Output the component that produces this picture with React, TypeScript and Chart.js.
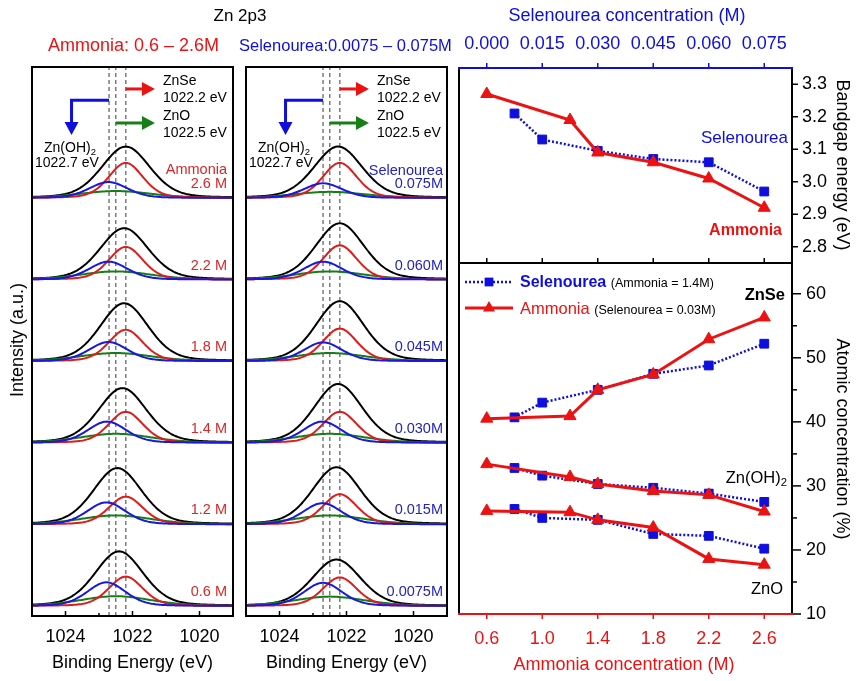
import React, { useEffect, useRef } from 'react';
import { Chart, ChartConfiguration, registerables } from 'chart.js';

Chart.register(...registerables);

const W = 860;
const H = 681;
const FONT = 'Arial, "Liberation Sans", Helvetica, sans-serif';

const SPEC_RED = 'rgb(222,28,28)';
const SPEC_BLUE = 'rgb(24,24,222)';
const SPEC_GREEN = 'rgb(22,126,22)';
const RED = 'rgb(236,18,18)';
const BLUE = 'rgb(14,14,222)';
const LABEL_RED = 'rgb(214,40,40)';
const LABEL_BLUE = 'rgb(36,36,186)';

// ---- Zn 2p3 fits (a.u.; stacked spectra are 100 a.u. apart) ----
const bindingEnergyTicks = [1024, 1022, 1020];
const bindingEnergyMinorTicks = [1023, 1021];
const referenceEnergies = [1022.7, 1022.5, 1022.2]; // Zn(OH)2, ZnO, ZnSe
const znseCenter = 1022.2;
const znoCenter = 1022.5;
const componentFwhm = [1.7, 1.2, 1.35, 2.5]; // envelope, ZnSe, Zn(OH)2, ZnO

const ammoniaSpectra = ['0.6 M', '1.2 M', '1.4 M', '1.8 M', '2.2 M', '2.6 M'];
const ammoniaEnvelopeCenter = [1022.4, 1022.45, 1022.3, 1022.25, 1022.25, 1022.2];
const ammoniaEnvelopeHeight = [67, 69, 67, 71, 63, 63];
const ammoniaZnSeHeight = [36, 34, 38, 38.5, 40, 43];
const ammoniaZnOHCenter = [1022.78, 1022.78, 1022.76, 1022.72, 1022.72, 1022.72];
const ammoniaZnOHHeight = [29, 27, 26, 23.5, 22, 19.5];
const ammoniaZnOHeight = [12, 11, 11, 10, 10, 8.5];

const selenoureaSpectra = ['0.0075M', '0.015M', '0.030M', '0.045M', '0.060M', '0.075M'];
const selenoureaEnvelopeCenter = [1022.3, 1022.3, 1022.25, 1022.2, 1022.2, 1022.25];
const selenoureaEnvelopeHeight = [57, 70, 72, 73.5, 69, 63];
const selenoureaZnSeHeight = [35, 37, 38, 40, 42, 43];
const selenoureaZnOHCenter = [1022.7, 1022.72, 1022.72, 1022.7, 1022.7, 1022.7];
const selenoureaZnOHHeight = [28.5, 26, 26, 23, 22, 18];
const selenoureaZnOHeight = [11.5, 11, 11, 10, 10, 7.5];

// ---- band gap / composition ----
const ammoniaConc = [0.6, 1.2, 1.4, 1.8, 2.2, 2.6];
const selenoureaConc = [0.0075, 0.015, 0.03, 0.045, 0.06, 0.075];
const ammoniaTicks = [0.6, 1.0, 1.4, 1.8, 2.2, 2.6];
const selenoureaTicks = [0, 0.015, 0.03, 0.045, 0.06, 0.075];
const bandgapTicks = [2.8, 2.9, 3.0, 3.1, 3.2, 3.3];
const atomicTicks = [10, 20, 30, 40, 50, 60];
const atomicMinorTicks = [15, 25, 35, 45, 55];

const bandgapAmmonia = [3.27, 3.19, 3.09, 3.06, 3.01, 2.92];
const bandgapSelenourea = [3.21, 3.13, 3.095, 3.07, 3.06, 2.97];

const znseAmmonia = [40.5, 40.9, 45.0, 47.4, 52.9, 56.3];
const znohAmmonia = [33.4, 31.4, 30.3, 29.2, 28.6, 26.0];
const znoAmmonia = [26.1, 25.9, 24.7, 23.5, 18.6, 17.7];
const znseSelenourea = [40.7, 43.0, 45.0, 47.5, 48.8, 52.2];
const znohSelenourea = [32.8, 31.6, 30.3, 29.7, 28.8, 27.5];
const znoSelenourea = [26.4, 25.0, 24.7, 22.5, 22.2, 20.2];

// layout of the stacked panels
const SPACING = 100;
const Y_MIN = -12.25;
const Y_MAX = 660.5;
const SPEC_TOP = 67;
const SPEC_BOTTOM = 616;
const ETA = 0.25;
const AXIS_BAND = 44; // room kept for tick labels outside the plot area

const energyGrid: number[] = [];
for (let i = 0; i <= 150; i++) energyGrid.push(1019 + i * 0.04);

const profile = (c: number, h: number, w: number, offset: number) =>
  energyGrid.map((x) => {
    const t = (x - c) / w;
    return { x, y: offset + h * ((1 - ETA) * Math.exp(-4 * Math.LN2 * t * t) + ETA / (1 + 4 * t * t)) };
  });

const curve = (data: { x: number; y: number }[], color: string, width: number) => ({
  data,
  borderColor: color,
  borderWidth: width,
  pointRadius: 0,
  fill: false,
  tension: 0,
});

type TickSet = { scale: string; side: 'top' | 'bottom' | 'right'; values: number[]; len: number; out: boolean; color: string };
type Arrow = { pts: [number, number][]; color: string };
type LegendSym = { dx: number; dy: number; len: number; color: string; dash: number[]; width: number; marker: 'rect' | 'triangle'; size: number };
type Decor = {
  frame: { top: string; right: string; bottom: string; left: string };
  ticks: TickSet[];
  arrows?: Arrow[];
  legend?: LegendSym[];
};

const drawMarker = (ctx: CanvasRenderingContext2D, kind: string, x: number, y: number, r: number, color: string) => {
  ctx.fillStyle = color;
  ctx.beginPath();
  if (kind === 'rect') {
    const s = r * Math.SQRT1_2;
    ctx.rect(x - s, y - s, 2 * s, 2 * s);
  } else {
    ctx.moveTo(x, y - r);
    ctx.lineTo(x + r * 0.866, y + r / 2);
    ctx.lineTo(x - r * 0.866, y + r / 2);
    ctx.closePath();
  }
  ctx.fill();
};

const decor = (d: Decor) => ({
  id: 'decor',
  afterDraw(chart: Chart) {
    const { ctx, chartArea: a } = chart;
    ctx.save();
    const sx = chart.scales.x;
    const sy = chart.scales.y;
    (d.arrows || []).forEach((arrow) => {
      const pts = arrow.pts.map(([x, y]) => [sx.getPixelForValue(x), sy.getPixelForValue(y)]);
      const [ex, ey] = pts[pts.length - 1];
      const [px, py] = pts[pts.length - 2];
      const ang = Math.atan2(ey - py, ex - px);
      const head = 13;
      const half = 7;
      const bx = ex - Math.cos(ang) * head;
      const by = ey - Math.sin(ang) * head;
      ctx.strokeStyle = arrow.color;
      ctx.fillStyle = arrow.color;
      ctx.lineWidth = 3;
      ctx.lineJoin = 'miter';
      ctx.beginPath();
      ctx.moveTo(pts[0][0], pts[0][1]);
      for (let i = 1; i < pts.length - 1; i++) ctx.lineTo(pts[i][0], pts[i][1]);
      ctx.lineTo(bx, by);
      ctx.stroke();
      ctx.beginPath();
      ctx.moveTo(ex, ey);
      ctx.lineTo(bx + Math.sin(ang) * half, by - Math.cos(ang) * half);
      ctx.lineTo(bx - Math.sin(ang) * half, by + Math.cos(ang) * half);
      ctx.closePath();
      ctx.fill();
    });

    ctx.lineWidth = 1.5;
    d.ticks.forEach((t) => {
      const s = chart.scales[t.scale];
      ctx.strokeStyle = t.color;
      const len = t.out ? t.len : -t.len;
      t.values.forEach((v) => {
        const p = s.getPixelForValue(v);
        ctx.beginPath();
        if (t.side === 'bottom') {
          ctx.moveTo(p, a.bottom);
          ctx.lineTo(p, a.bottom + len);
        } else if (t.side === 'top') {
          ctx.moveTo(p, a.top);
          ctx.lineTo(p, a.top - len);
        } else {
          ctx.moveTo(a.right, p);
          ctx.lineTo(a.right + len, p);
        }
        ctx.stroke();
      });
    });

    const fw = 2;
    const e = fw / 2;
    ctx.lineWidth = fw;
    const side = (color: string, x1: number, y1: number, x2: number, y2: number) => {
      ctx.strokeStyle = color;
      ctx.beginPath();
      ctx.moveTo(x1, y1);
      ctx.lineTo(x2, y2);
      ctx.stroke();
    };
    side(d.frame.left, a.left, a.top - e, a.left, a.bottom + e);
    side(d.frame.right, a.right, a.top - e, a.right, a.bottom + e);
    side(d.frame.top, a.left - e, a.top, a.right + e, a.top);
    side(d.frame.bottom, a.left - e, a.bottom, a.right + e, a.bottom);

    (d.legend || []).forEach((l) => {
      const x1 = a.left + l.dx;
      const y = a.top + l.dy;
      ctx.strokeStyle = l.color;
      ctx.lineWidth = l.width;
      ctx.setLineDash(l.dash);
      ctx.beginPath();
      ctx.moveTo(x1, y);
      ctx.lineTo(x1 + l.len, y);
      ctx.stroke();
      ctx.setLineDash([]);
      drawMarker(ctx, l.marker, x1 + l.len / 2, y, l.size, l.color);
    });
    ctx.restore();
  },
});

const fixedTicks = (values: number[]) => (axis: any) => {
  axis.ticks = values.map((value) => ({ value }));
};
const bandHeight = (s: any) => {
  s.height = AXIS_BAND;
};
const bandWidth = (s: any) => {
  s.width = AXIS_BAND;
};
const tickFont = { family: FONT, size: 18 };
const noGrid = { display: false, drawTicks: false };

type SpectraSet = {
  envC: number[];
  envH: number[];
  znseH: number[];
  znohC: number[];
  znohH: number[];
  znoH: number[];
};

const annotationArrows: Arrow[] = [
  { pts: [[1022.2, 633.6], [1021.33, 633.6]], color: RED },
  { pts: [[1022.5, 591.9], [1021.33, 591.9]], color: SPEC_GREEN },
  { pts: [[1022.7, 619.9], [1023.82, 619.9], [1023.82, 577.2]], color: BLUE },
];

function spectraConfig(left: number, right: number, p: SpectraSet): ChartConfiguration {
  const blues: any[] = [];
  const reds: any[] = [];
  const greens: any[] = [];
  const blacks: any[] = [];
  p.envC.forEach((c, k) => {
    const off = k * SPACING;
    blacks.push(curve(profile(c, p.envH[k], componentFwhm[0], off), '#000', 2));
    reds.push(curve(profile(znseCenter, p.znseH[k], componentFwhm[1], off), SPEC_RED, 2));
    blues.push(curve(profile(p.znohC[k], p.znohH[k], componentFwhm[2], off), SPEC_BLUE, 2));
    greens.push(curve(profile(znoCenter, p.znoH[k], componentFwhm[3], off), SPEC_GREEN, 2));
  });
  const guides = referenceEnergies.map((en) => ({
    ...curve([{ x: en, y: Y_MIN }, { x: en, y: Y_MAX }], '#7c7c7c', 1.5),
    borderDash: [4, 3],
  }));
  return {
    type: 'line',
    data: { datasets: [...blues, ...reds, ...greens, ...blacks, ...guides] },
    options: {
      animation: false,
      responsive: false,
      events: [],
      layout: { padding: { left, right: W - right, top: SPEC_TOP, bottom: H - SPEC_BOTTOM - AXIS_BAND } },
      plugins: { legend: { display: false }, tooltip: { enabled: false } },
      scales: {
        x: {
          type: 'linear',
          reverse: true,
          min: 1019,
          max: 1025,
          afterBuildTicks: fixedTicks(bindingEnergyTicks),
          afterFit: bandHeight,
          grid: noGrid,
          border: { display: false },
          ticks: { font: tickFont, color: '#000', padding: 10, autoSkip: false, maxRotation: 0, callback: (v: any) => String(v) },
        },
        y: { type: 'linear', display: false, min: Y_MIN, max: Y_MAX },
      },
    } as any,
    plugins: [
      decor({
        frame: { top: '#000', right: '#000', bottom: '#000', left: '#000' },
        ticks: [
          { scale: 'x', side: 'bottom', values: bindingEnergyTicks, len: 5, out: false, color: '#000' },
          { scale: 'x', side: 'bottom', values: bindingEnergyMinorTicks, len: 3, out: false, color: '#000' },
        ],
        arrows: annotationArrows,
      }),
    ] as any,
  };
}

const pts = (xs: number[], ys: number[]) => xs.map((x, i) => ({ x, y: ys[i] }));

const ammoniaStyle = {
  borderColor: RED,
  backgroundColor: RED,
  borderWidth: 3,
  pointStyle: 'triangle',
  pointRadius: 7,
  pointBorderWidth: 1,
  pointBackgroundColor: RED,
  pointBorderColor: RED,
  tension: 0,
  xAxisID: 'x',
};
const selenoureaStyle = {
  borderColor: BLUE,
  backgroundColor: BLUE,
  borderWidth: 2.5,
  borderDash: [2, 2],
  pointStyle: 'rect',
  pointRadius: 6.2,
  pointBorderWidth: 1,
  pointBackgroundColor: BLUE,
  pointBorderColor: BLUE,
  tension: 0,
  xAxisID: 'x2',
};

const RIGHT_LEFT = 459;
const RIGHT_RIGHT = 792;

function bandgapConfig(): ChartConfiguration {
  return {
    type: 'line',
    data: {
      datasets: [
        { ...ammoniaStyle, data: pts(ammoniaConc, bandgapAmmonia) },
        { ...selenoureaStyle, data: pts(selenoureaConc, bandgapSelenourea) },
      ] as any,
    },
    options: {
      animation: false,
      responsive: false,
      events: [],
      layout: {
        padding: { left: RIGHT_LEFT, right: W - RIGHT_RIGHT - AXIS_BAND, top: 68 - AXIS_BAND, bottom: H - 263 },
      },
      plugins: { legend: { display: false }, tooltip: { enabled: false } },
      scales: {
        x: { type: 'linear', display: false, min: 0.4, max: 2.8 },
        x2: {
          type: 'linear',
          position: 'top',
          min: -0.0075,
          max: 0.0825,
          afterBuildTicks: fixedTicks(selenoureaTicks),
          afterFit: bandHeight,
          grid: noGrid,
          border: { display: false },
          ticks: { font: tickFont, color: BLUE, padding: 13, autoSkip: false, maxRotation: 0, callback: (v: any) => Number(v).toFixed(3) },
        },
        y: {
          type: 'linear',
          position: 'right',
          min: 2.75,
          max: 3.35,
          afterBuildTicks: fixedTicks(bandgapTicks),
          afterFit: bandWidth,
          grid: noGrid,
          border: { display: false },
          ticks: { font: tickFont, color: '#000', padding: 10, callback: (v: any) => Number(v).toFixed(1) },
        },
      },
    } as any,
    plugins: [
      decor({
        frame: { top: BLUE, right: '#000', bottom: '#000', left: '#000' },
        ticks: [
          { scale: 'x2', side: 'top', values: selenoureaTicks, len: 5, out: true, color: BLUE },
          { scale: 'x', side: 'bottom', values: ammoniaTicks, len: 5, out: false, color: '#000' },
          { scale: 'y', side: 'right', values: bandgapTicks, len: 6, out: true, color: '#000' },
        ],
      }),
    ] as any,
  };
}

function compositionConfig(): ChartConfiguration {
  return {
    type: 'line',
    data: {
      datasets: [
        { ...ammoniaStyle, data: pts(ammoniaConc, znseAmmonia) },
        { ...ammoniaStyle, data: pts(ammoniaConc, znohAmmonia) },
        { ...ammoniaStyle, data: pts(ammoniaConc, znoAmmonia) },
        { ...selenoureaStyle, data: pts(selenoureaConc, znseSelenourea) },
        { ...selenoureaStyle, data: pts(selenoureaConc, znohSelenourea) },
        { ...selenoureaStyle, data: pts(selenoureaConc, znoSelenourea) },
      ] as any,
    },
    options: {
      animation: false,
      responsive: false,
      events: [],
      layout: {
        padding: { left: RIGHT_LEFT, right: W - RIGHT_RIGHT - AXIS_BAND, top: 263, bottom: H - 614 - AXIS_BAND },
      },
      plugins: { legend: { display: false }, tooltip: { enabled: false } },
      scales: {
        x: {
          type: 'linear',
          min: 0.4,
          max: 2.8,
          afterBuildTicks: fixedTicks(ammoniaTicks),
          afterFit: bandHeight,
          grid: noGrid,
          border: { display: false },
          ticks: { font: tickFont, color: RED, padding: 14, autoSkip: false, maxRotation: 0, callback: (v: any) => Number(v).toFixed(1) },
        },
        x2: { type: 'linear', display: false, position: 'top', min: -0.0075, max: 0.0825 },
        y: {
          type: 'linear',
          position: 'right',
          min: 10,
          max: 64.8,
          afterBuildTicks: fixedTicks(atomicTicks),
          afterFit: bandWidth,
          grid: noGrid,
          border: { display: false },
          ticks: { font: tickFont, color: '#000', padding: 14, callback: (v: any) => String(v) },
        },
      },
    } as any,
    plugins: [
      decor({
        frame: { top: '#000', right: '#000', bottom: RED, left: '#000' },
        ticks: [
          { scale: 'x', side: 'bottom', values: ammoniaTicks, len: 5, out: true, color: RED },
          { scale: 'y', side: 'right', values: atomicTicks, len: 9, out: true, color: '#000' },
          { scale: 'y', side: 'right', values: atomicMinorTicks, len: 5, out: true, color: '#000' },
        ],
        legend: [
          { dx: 6, dy: 19, len: 48, color: BLUE, dash: [2, 2], width: 2.5, marker: 'rect', size: 6.2 },
          { dx: 6, dy: 45, len: 48, color: RED, dash: [], width: 3, marker: 'triangle', size: 7 },
        ],
      }),
    ] as any,
  };
}

function ChartLayer({ make }: { make: () => ChartConfiguration }) {
  const ref = useRef<HTMLCanvasElement | null>(null);
  useEffect(() => {
    if (!ref.current) return;
    const chart = new Chart(ref.current, make());
    return () => chart.destroy();
  }, []);
  return (
    <canvas
      ref={ref}
      width={W}
      height={H}
      style={{ position: 'absolute', left: 0, top: 0, width: W, height: H }}
    />
  );
}

type TextProps = {
  x: number;
  y: number;
  align?: 'left' | 'center' | 'right';
  rotate?: number;
  size?: number;
  color?: string;
  bold?: boolean;
  children: React.ReactNode;
};

function T({ x, y, align = 'left', rotate = 0, size = 18, color = '#000', bold = false, children }: TextProps) {
  const tx = align === 'left' ? '0%' : align === 'center' ? '-50%' : '-100%';
  return (
    <div
      style={{
        position: 'absolute',
        left: x,
        top: y,
        transform: `translate(${tx},-50%)` + (rotate ? ` rotate(${rotate}deg)` : ''),
        whiteSpace: 'nowrap',
        lineHeight: 1,
        fontSize: size,
        color,
        fontWeight: bold ? 700 : 400,
      }}
    >
      {children}
    </div>
  );
}

const Sub = ({ children }: { children: React.ReactNode }) => (
  <sub style={{ fontSize: '0.68em', lineHeight: 0, verticalAlign: '-0.3em' }}>{children}</sub>
);

const baselinePx = (k: number) => 606 - k * 81.6;

function PanelNotes({ dx }: { dx: number }) {
  return (
    <>
      <T x={163 + dx} y={80} size={14}>ZnSe</T>
      <T x={163 + dx} y={97} size={14}>1022.2 eV</T>
      <T x={163 + dx} y={115} size={14}>ZnO</T>
      <T x={163 + dx} y={132} size={14}>1022.5 eV</T>
      <T x={44 + dx} y={147} size={14}>
        Zn(OH)<Sub>2</Sub>
      </T>
      <T x={35 + dx} y={162} size={14}>1022.7 eV</T>
    </>
  );
}

export default function App() {
  return (
    <div
      style={{
        position: 'absolute',
        left: 0,
        top: 0,
        width: W,
        height: H,
        background: '#fff',
        overflow: 'hidden',
        fontFamily: FONT,
        color: '#000',
      }}
    >
      <ChartLayer
        make={() =>
          spectraConfig(32, 233, {
            envC: ammoniaEnvelopeCenter,
            envH: ammoniaEnvelopeHeight,
            znseH: ammoniaZnSeHeight,
            znohC: ammoniaZnOHCenter,
            znohH: ammoniaZnOHHeight,
            znoH: ammoniaZnOHeight,
          })
        }
      />
      <ChartLayer
        make={() =>
          spectraConfig(246, 447, {
            envC: selenoureaEnvelopeCenter,
            envH: selenoureaEnvelopeHeight,
            znseH: selenoureaZnSeHeight,
            znohC: selenoureaZnOHCenter,
            znohH: selenoureaZnOHHeight,
            znoH: selenoureaZnOHeight,
          })
        }
      />
      <ChartLayer make={bandgapConfig} />
      <ChartLayer make={compositionConfig} />

      <T x={240} y={15} align="center" size={17}>Zn 2p3</T>
      <T x={133.5} y={45} align="center" size={18} color={RED}>Ammonia: 0.6 – 2.6M</T>
      <T x={239} y={45} size={16.5} color={BLUE}>Selenourea:0.0075 – 0.075M</T>

      <PanelNotes dx={0} />
      <PanelNotes dx={214} />
      <T x={227} y={169} align="right" size={14.5} color={LABEL_RED}>Ammonia</T>
      <T x={443} y={170} align="right" size={14.5} color={LABEL_BLUE}>Selenourea</T>
      {ammoniaSpectra.map((s, k) => (
        <T key={s} x={227} y={baselinePx(k) - 15} align="right" size={14.5} color={LABEL_RED}>
          {s}
        </T>
      ))}
      {selenoureaSpectra.map((s, k) => (
        <T key={s} x={443} y={baselinePx(k) - 15} align="right" size={14.5} color={LABEL_BLUE}>
          {s}
        </T>
      ))}

      <T x={17} y={340} align="center" rotate={-90} size={18}>Intensity (a.u.)</T>
      <T x={132.5} y={662} align="center" size={18}>Binding Energy (eV)</T>
      <T x={346.5} y={662} align="center" size={18}>Binding Energy (eV)</T>

      <T x={627} y={15} align="center" size={18} color={BLUE}>Selenourea concentration (M)</T>
      <T x={624} y={664} align="center" size={18} color={RED}>Ammonia concentration (M)</T>
      <T x={843} y={165} align="center" rotate={90} size={18}>Bandgap energy (eV)</T>
      <T x={843} y={439} align="center" rotate={90} size={18}>Atomic concentration (%)</T>

      <T x={788} y={137} align="right" size={17} color={BLUE}>Selenourea</T>
      <T x={782} y={230} align="right" size={16} bold color={RED}>Ammonia</T>

      <T x={520} y={282} size={16} bold color={BLUE}>
        Selenourea{' '}
        <span style={{ fontSize: 12.5, fontWeight: 400, color: '#000' }}>(Ammonia = 1.4M)</span>
      </T>
      <T x={520} y={308} size={16.5} color={RED}>
        Ammonia{' '}
        <span style={{ fontSize: 12.5, color: '#000' }}>(Selenourea = 0.03M)</span>
      </T>
      <T x={785} y={294} align="right" size={16.5} bold>ZnSe</T>
      <T x={787} y={477} align="right" size={16.5}>
        Zn(OH)<Sub>2</Sub>
      </T>
      <T x={783} y={588} align="right" size={16.5}>ZnO</T>
    </div>
  );
}
